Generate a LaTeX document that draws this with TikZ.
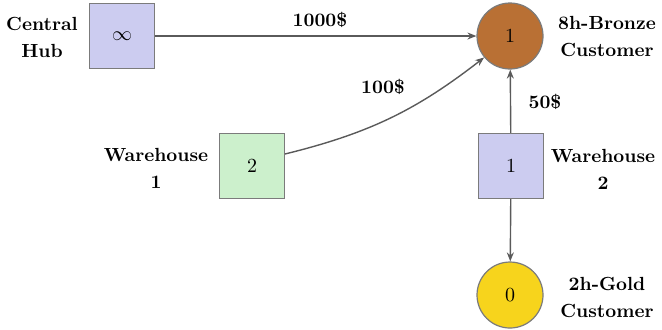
\documentclass[tikz,border=0pt]{standalone}
\usetikzlibrary{arrows.meta}
\definecolor{boxblue}{RGB}{204,204,240}
\definecolor{boxgreen}{RGB}{204,240,204}
\definecolor{bronze}{RGB}{185,112,52}
\definecolor{gold}{RGB}{247,212,28}
\definecolor{edge}{RGB}{90,90,90}
\begin{document}
\begin{tikzpicture}[x=0.5pt,y=-0.5pt,
  sq/.style={draw=edge!80,line width=0.6pt,minimum size=32.5pt,inner sep=0pt,font=\normalsize},
  circ/.style={circle,draw=edge!80,line width=0.6pt,minimum size=33pt,inner sep=0pt,font=\normalsize},
  lab/.style={align=center,font=\fontsize{9.5}{13.5}\selectfont\bfseries,inner sep=0pt},
  conn/.style={draw=edge,line width=0.7pt,-{Stealth[length=4.5pt,width=3.5pt]}},
  elab/.style={font=\fontsize{9.5}{13.5}\selectfont\bfseries,inner sep=0pt}]
\useasboundingbox (0,0) rectangle (662,329);
\node[sq,fill=boxblue] (hub) at (122,36) {$\infty$};
\node[circ,fill=bronze] (bronze) at (510,36) {1};
\node[sq,fill=boxgreen] (w1) at (252,166) {2};
\node[sq,fill=boxblue] (w2) at (511,166) {1};
\node[circ,fill=gold] (gold) at (510,295) {0};
\node[lab] (hubl) at (42,37) {Central\\Hub};
\node[lab] (bronzel) at (607,37) {8h-Bronze\\Customer};
\node[lab] (w1l) at (156,168) {Warehouse\\1};
\node[lab] (w2l) at (603,169) {Warehouse\\2};
\node[lab] (goldl) at (607,297) {2h-Gold\\Customer};
\coordinate (w1s) at (285,154);
\draw[conn] (hub) -- (bronze);
\node[elab] (e1) at (320,20) {1000\$};
\draw[conn] (w1s) to[bend right=12] (bronze);
\node[elab] (e2) at (383,87) {100\$};
\draw[conn] (w2) -- (bronze);
\node[elab] (e3) at (545,102) {50\$};
\draw[conn] (w2) -- (gold);
\end{tikzpicture}
\end{document}
